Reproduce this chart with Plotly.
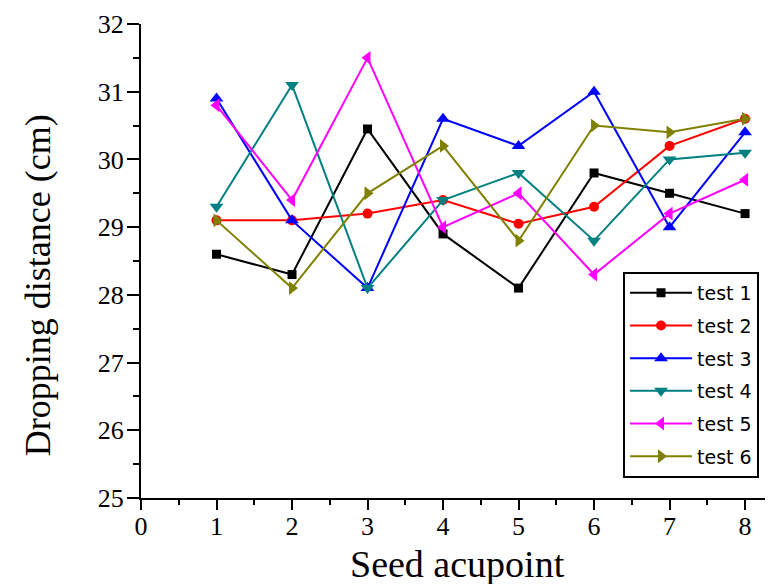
import plotly.graph_objects as go

seed_acupoint = [1, 2, 3, 4, 5, 6, 7, 8]
test1 = [28.6, 28.3, 30.45, 28.9, 28.1, 29.8, 29.5, 29.2]
test2 = [29.1, 29.1, 29.2, 29.4, 29.05, 29.3, 30.2, 30.6]
test3 = [30.9, 29.1, 28.1, 30.6, 30.2, 31.0, 29.0, 30.4]
test4 = [29.3, 31.1, 28.1, 29.4, 29.8, 28.8, 30.0, 30.1]
test5 = [30.8, 29.4, 31.5, 29.0, 29.5, 28.3, 29.2, 29.7]
test6 = [29.1, 28.1, 29.5, 30.2, 28.8, 30.5, 30.4, 30.6]

series_names = ["test 1", "test 2", "test 3", "test 4", "test 5", "test 6"]
series_values = [test1, test2, test3, test4, test5, test6]
colors = ["#000000", "#FF0000", "#0000FF", "#008080", "#FF00FF", "#808000"]
symbols = ["square", "circle", "triangle-up", "triangle-down", "triangle-left", "triangle-right"]
sizes = [9, 10, 12, 12, 12, 12]

x_ticks = list(range(0, 9))

fig = go.Figure()
for i, (name, vals) in enumerate(zip(series_names, series_values)):
    fig.add_trace(go.Scatter(
        x=seed_acupoint, y=vals, name=name, mode="lines+markers",
        line=dict(color=colors[i], width=2),
        marker=dict(symbol=symbols[i], size=sizes[i], color=colors[i]),
        legendgroup=name,
    ))

serif = "Liberation Serif, Times New Roman, serif"
fig.update_layout(
    width=765, height=576,
    margin=dict(l=133, r=0, t=16, b=86),
    paper_bgcolor="white", plot_bgcolor="white",
    showlegend=True,
    legend=dict(
        x=0.7627, y=0.477, xanchor="left", yanchor="top",
        bordercolor="black", borderwidth=2, bgcolor="white",
        font=dict(family="DejaVu Sans", size=19, color="black"),
        traceorder="grouped", tracegroupgap=5, itemwidth=62,
    ),
    xaxis=dict(
        range=[0, 8.37], tickmode="array", tickvals=x_ticks,
        showgrid=False, zeroline=False, automargin=False,
        showline=True, linecolor="black", linewidth=2,
        ticks="outside", ticklen=10, tickwidth=2, tickcolor="black",
        minor=dict(ticks="outside", ticklen=5, tickwidth=2, tickcolor="black", dtick=0.5, showgrid=False),
        tickfont=dict(family=serif, size=26, color="black"),
        ticklabelstandoff=-6,
    ),
    yaxis=dict(
        range=[25, 32], dtick=1,
        showgrid=False, zeroline=False, automargin=False,
        showline=True, linecolor="black", linewidth=2,
        ticks="outside", ticklen=12, tickwidth=2, tickcolor="black",
        minor=dict(ticks="outside", ticklen=6, tickwidth=2, tickcolor="black", dtick=0.5, showgrid=False),
        tickfont=dict(family=serif, size=26, color="black"),
        ticklabelstandoff=-2,
    ),
    annotations=[
        dict(text="Seed acupoint", xref="paper", yref="paper", x=0.5, y=-0.188,
             xanchor="center", yanchor="bottom", showarrow=False,
             font=dict(family=serif, size=38, color="black")),
        dict(text="Dropping distance (cm)", xref="paper", yref="paper", x=-0.163, y=0.449,
             xanchor="center", yanchor="middle", textangle=-90, showarrow=False,
             font=dict(family=serif, size=36, color="black")),
    ],
)

fig.write_html("out.html")
